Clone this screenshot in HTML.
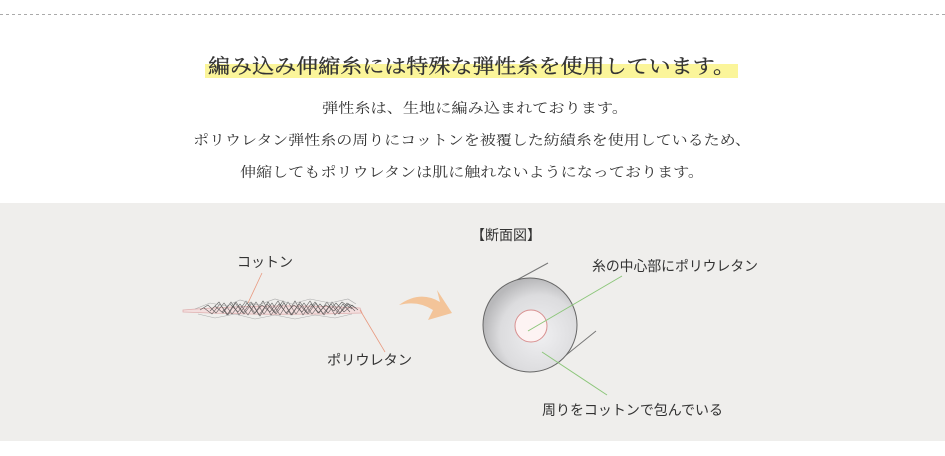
<!DOCTYPE html>
<html><head><meta charset="utf-8"><style>
html,body{margin:0;padding:0;background:#fff;width:945px;height:456px;overflow:hidden}
</style></head><body>
<svg width="945" height="456" xmlns="http://www.w3.org/2000/svg">
<defs>
<radialGradient id="g" cx="0.6" cy="0.6" r="0.6">
<stop offset="0" stop-color="#f0f0f2"/><stop offset="0.7" stop-color="#dcdcde"/><stop offset="1" stop-color="#b8b8ba"/>
</radialGradient>
</defs>
<line x1="0" y1="14.5" x2="945" y2="14.5" stroke="#aaa" stroke-dasharray="3,3"/>
<rect x="205" y="64" width="533" height="14" fill="#fbf59a"/>
<g font-family="'Liberation Serif','Noto Serif CJK SC',serif" fill="#333">
<text x="208" y="73" font-size="20" textLength="527" lengthAdjust="spacingAndGlyphs" stroke="#333" stroke-width="0.3">編み込み伸縮糸には特殊な弾性糸を使用しています。</text>
<text x="322" y="113" font-size="14" textLength="306" lengthAdjust="spacingAndGlyphs">弾性糸は、生地に編み込まれております。</text>
<text x="193" y="145" font-size="14" textLength="558" lengthAdjust="spacingAndGlyphs">ポリウレタン弾性糸の周りにコットンを被覆した紡績糸を使用しているため、</text>
<text x="240" y="177" font-size="14" textLength="464" lengthAdjust="spacingAndGlyphs">伸縮してもポリウレタンは肌に触れないようになっております。</text>
</g>
<rect x="0" y="203" width="945" height="238" fill="#efeeec"/>
<g font-family="'Liberation Sans','Noto Sans CJK JP',sans-serif" fill="#333" font-size="14">
<text x="471" y="240" textLength="70" lengthAdjust="spacingAndGlyphs">【断面図】</text>
<text x="237" y="267" textLength="56" lengthAdjust="spacingAndGlyphs">コットン</text>
<text x="327" y="365" textLength="85" lengthAdjust="spacingAndGlyphs">ポリウレタン</text>
<text x="592" y="271" textLength="166" lengthAdjust="spacingAndGlyphs">糸の中心部にポリウレタン</text>
<text x="542" y="415" textLength="181" lengthAdjust="spacingAndGlyphs">周りをコットンで包んでいる</text>
</g>
<!-- yarn -->
<path d="M183 310 Q270 303 360 308 L362 313 Q270 316 183 312 Z" fill="#f3dede" stroke="#e0b0b0" stroke-width="0.8"/>
<g stroke="#444" stroke-width="0.6" fill="none" opacity="0.85">
<polyline points="200,310 208,305 216,313 224,303 232,314 240,304 248,315 256,302 264,314 272,303 280,315 288,302 296,314 304,303 312,314 320,304 328,313 336,303 344,312 352,305 358,310"/>
<polyline points="204,308 212,314 220,304 228,315 236,302 244,314 252,303 260,316 268,302 276,314 284,303 292,315 300,302 308,314 316,303 324,315 332,302 340,313 348,304 355,311"/>
<polyline points="210,311 219,302 227,315 235,303 243,313 251,302 259,315 267,304 275,313 283,301 291,315 299,304 307,313 315,302 323,314 331,304 339,314 347,303 356,308"/>
<polyline points="215,306 223,313 231,302 239,315 247,303 255,313 263,301 271,315 279,304 287,314 295,301 303,315 311,304 319,313 327,302 335,315 343,304 350,312"/>
<polyline points="222,312 230,304 238,312 246,301 254,314 262,305 270,312 278,301 286,313 294,305 302,312 310,301 318,313 326,305 334,311 342,302 352,309"/>
</g>
<g stroke="#aaa" stroke-width="0.6" fill="none">
<polyline points="195,309 210,303 226,306 240,300 258,305 275,299 292,304 310,299 330,303 348,299 356,304"/>
<polyline points="198,314 215,318 235,314 255,319 275,315 295,319 315,315 335,318 352,314"/>
</g>
<line x1="248" y1="303" x2="262" y2="273" stroke="#e89a80" stroke-width="0.8"/>
<line x1="360" y1="310" x2="385" y2="352" stroke="#e89a80" stroke-width="0.8"/>
<!-- arrow -->
<path d="M399 305 Q420 290 440 302 L437 290 L452 313 L428 320 L433 310 Q418 300 399 305 Z" fill="#f3c499"/>
<!-- circle -->
<line x1="515" y1="281" x2="548" y2="263" stroke="#777" stroke-width="1"/>
<line x1="560" y1="360" x2="596" y2="331" stroke="#777" stroke-width="1"/>
<circle cx="530" cy="325" r="47" fill="url(#g)" stroke="#666" stroke-width="1"/>
<circle cx="531" cy="326" r="16" fill="#fdf3f3" stroke="#d89090" stroke-width="1"/>
<line x1="528" y1="331" x2="622" y2="276" stroke="#8cc67a" stroke-width="1"/>
<line x1="542" y1="352" x2="607" y2="395" stroke="#8cc67a" stroke-width="1"/>
</svg>
</body></html>
